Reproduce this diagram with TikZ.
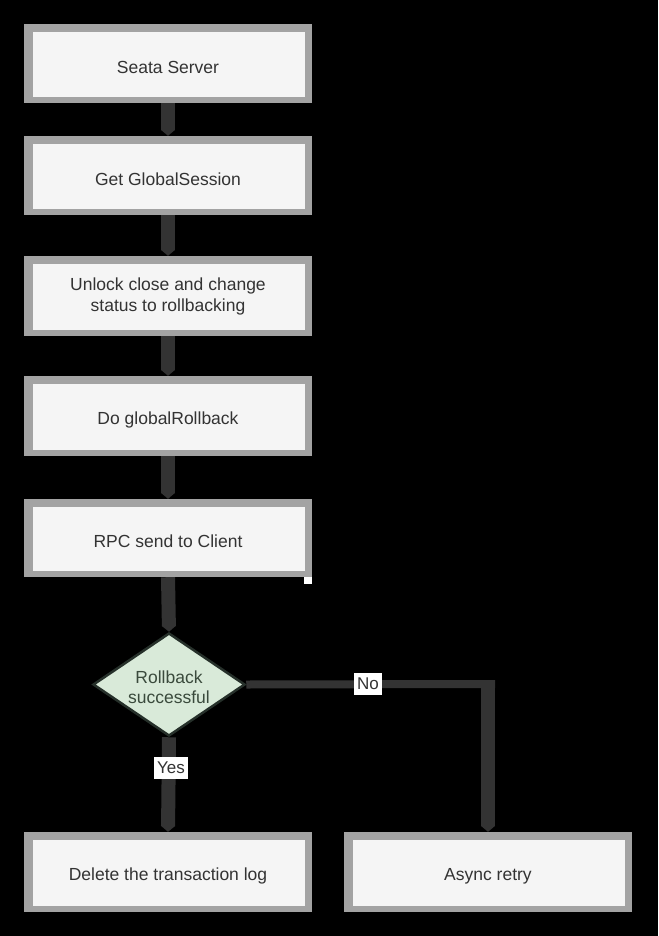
\documentclass[tikz,border=0pt]{standalone}
\usepackage{fontspec}
\setmainfont{Liberation Sans}
\usetikzlibrary{shapes.geometric,arrows.meta}
\definecolor{boxfill}{HTML}{F5F5F5}
\definecolor{boxedge}{HTML}{A3A3A3}
\definecolor{linec}{HTML}{333333}
\definecolor{txt}{HTML}{333333}
\definecolor{dfill}{HTML}{D9EAD9}
\definecolor{dedge}{HTML}{26302A}
\definecolor{dtxt}{HTML}{3A4A3C}
\begin{document}
\begin{tikzpicture}[x=1pt,y=-1pt,
  stepbox/.style={fill=boxedge, minimum width=288pt,
    minimum height=80pt, inner sep=0pt, text=txt, align=center,
    font=\fontsize{17.5}{21}\selectfont,
    execute at begin node={\rule{0pt}{20pt}},
    path picture={\fill[boxfill]
      ([xshift=9pt,yshift=-8pt]path picture bounding box.north west) rectangle
      ([xshift=-7pt,yshift=6pt]path picture bounding box.south east);}},
  decide/.style={diamond, draw=dedge, line width=2.5pt, fill=dfill, minimum width=152pt,
    minimum height=103pt, aspect=1.476, inner sep=0pt},
  dtext/.style={text=dtxt, align=center, inner sep=0pt, yshift=-3pt,
    font=\fontsize{17.5}{20}\selectfont},
  vflow/.style={draw=linec, line width=14pt, -{Triangle[length=6pt,width=14pt]}},
  hline/.style={draw=linec, line width=8pt},
  lbl/.style={fill=white, text=txt, inner xsep=3pt, inner ysep=5pt,
    font=\fontsize{17}{20}\selectfont}]
\fill[black] (0,0) rectangle (658,936);
\useasboundingbox (0,0) rectangle (658,936);

\node[stepbox, minimum height=79pt] (b1) at (168,63.5) {Seata Server};
\node[stepbox, minimum height=79pt] (b2) at (168,175.5) {Get GlobalSession};
\node[stepbox] (b3) at (168,296) {Unlock close and change\\status to rollbacking};
\node[stepbox] (b4) at (168,416) {Do globalRollback};
\node[stepbox, minimum height=78pt] (b5) at (168,538) {RPC send to Client};
\node[decide, label={[dtext]center:Rollback\\successful}] (dia) at (169,684.5) {};
\node[stepbox] (del) at (168,872) {Delete the transaction log};
\node[stepbox] (async) at (488,872) {Async retry};

\fill[white] (304,577) rectangle (312,584);

\draw[vflow] (b1.south) -- (b2.north);
\draw[vflow] (b2.south) -- (b3.north);
\draw[vflow] (b3.south) -- (b4.north);
\draw[vflow] (b4.south) -- (b5.north);
\draw[vflow] (b5.south) -- (dia.north);
\draw[vflow] (dia.south) -- (del.north);
\coordinate (noCorner) at (488,684);
\draw[hline] (dia.east) -- ([xshift=7pt]noCorner);
\draw[vflow] ([yshift=4pt]noCorner) -- (async.north);
\node[lbl] (nolbl) at (368,684) {No};
\node[lbl] (yeslbl) at (171,768) {Yes};
\end{tikzpicture}
\end{document}
